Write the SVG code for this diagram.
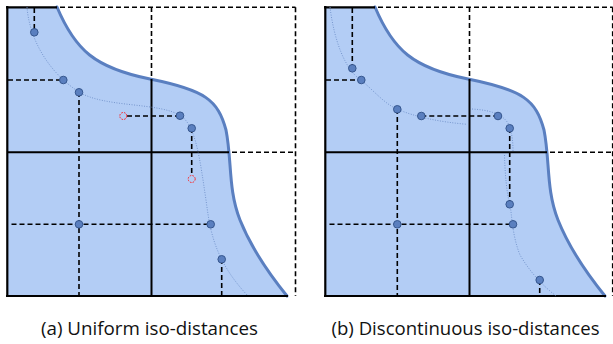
<svg xmlns="http://www.w3.org/2000/svg" width="613" height="344" viewBox="0 0 613 344">
<style>
.region{fill:#b3cdf5;stroke:none}
.edge{fill:none;stroke:#5a7fc0;stroke-width:3;stroke-linecap:round}
.solid{stroke:#000;stroke-width:2.2;fill:none}
.mid{stroke:#000;stroke-width:2;fill:none}
.dash{stroke:#000;stroke-width:1.6;stroke-dasharray:5 3;fill:none}
.iso{fill:none;stroke:#6f90c8;stroke-width:0.9;stroke-dasharray:1 1.5}
.pt{fill:#5a7fbf;stroke:#35568e;stroke-width:1}
.ghost{fill:none;stroke:#ff2020;stroke-width:1;stroke-dasharray:1.6 1.2}
.cap{font-family:"Open Sans","Noto Sans",sans-serif;font-size:17.5px;fill:#111;text-anchor:middle}
</style>
<defs>
<path id="shape" d="M7,7 L57,7 C75,50 95,68 150,79 C205,90 218,100 226,130 C232,160 228,190 240,220 C252,250 270,275 287,296 L7,296 Z"/>
<path id="bnd" d="M57,7 C75,50 95,68 150,79 C205,90 218,100 226,130 C232,160 228,190 240,220 C252,250 270,275 287,296"/>
</defs>

<g id="panel-a">
  <use href="#shape" class="region"/>
  <use href="#bnd" class="edge"/>
  <g id="grid-a">
    <line class="solid" x1="7.3" y1="6" x2="7.3" y2="297"/>
    <line class="solid" x1="6" y1="296" x2="288" y2="296"/>
    <line class="solid" x1="6" y1="7.3" x2="57" y2="7.3"/>
    <line class="dash" x1="60" y1="7.3" x2="295.5" y2="7.3"/>
    <line class="dash" x1="295.5" y1="7.3" x2="295.5" y2="296"/>
    <line class="dash" x1="151.5" y1="7" x2="151.5" y2="79"/>
    <line class="mid" x1="151.5" y1="79" x2="151.5" y2="296"/>
    <line class="mid" x1="7" y1="152.3" x2="229" y2="152.3"/>
    <line class="dash" x1="232" y1="152.3" x2="295.5" y2="152.3"/>
  </g>
  <path class="iso" d="M27,7 C29,35 45,70 79,92 C105,108 160,102 181,116 C196,126 200,160 206,200 C210,230 214,260 248,296"/>
  <g id="connectors-a">
    <line class="dash" x1="34.3" y1="8" x2="34.3" y2="32"/>
    <line class="dash" x1="8" y1="80" x2="63" y2="80"/>
    <line class="dash" x1="79" y1="92" x2="79" y2="295"/>
    <line class="dash" x1="127" y1="116" x2="180" y2="116"/>
    <line class="dash" x1="191.7" y1="128" x2="191.7" y2="175"/>
    <line class="dash" x1="11.5" y1="224.3" x2="210.7" y2="224.3"/>
    <line class="dash" x1="221.7" y1="259" x2="221.7" y2="295"/>
  </g>
  <g id="points-a">
    <circle class="pt" cx="34.3" cy="32.3" r="3.8"/>
    <circle class="pt" cx="63.3" cy="80" r="3.8"/>
    <circle class="pt" cx="79" cy="92.3" r="3.8"/>
    <circle class="pt" cx="180" cy="115.7" r="3.8"/>
    <circle class="pt" cx="191.7" cy="128.3" r="3.8"/>
    <circle class="pt" cx="210.7" cy="224.3" r="3.8"/>
    <circle class="pt" cx="221.7" cy="259.3" r="3.8"/>
    <circle class="pt" cx="79" cy="224.3" r="3.8"/>
    <circle class="ghost" cx="123.3" cy="116" r="3.5"/>
    <circle class="ghost" cx="191.7" cy="179" r="3.5"/>
  </g>
</g>

<g id="panel-b" transform="translate(318,0)">
  <use href="#shape" class="region"/>
  <use href="#bnd" class="edge"/>
  <g id="grid-b">
    <line class="solid" x1="7.3" y1="6" x2="7.3" y2="297"/>
    <line class="solid" x1="6" y1="296" x2="288" y2="296"/>
    <line class="solid" x1="6" y1="7.3" x2="57" y2="7.3"/>
    <line class="dash" x1="60" y1="7.3" x2="294.7" y2="7.3"/>
    <line class="dash" x1="294.7" y1="7.3" x2="294.7" y2="296"/>
    <line class="dash" x1="151.5" y1="7" x2="151.5" y2="79"/>
    <line class="mid" x1="151.5" y1="79" x2="151.5" y2="296"/>
    <line class="mid" x1="7" y1="152.3" x2="229" y2="152.3"/>
    <line class="dash" x1="232" y1="152.3" x2="294.7" y2="152.3"/>
  </g>
  <path class="iso" d="M12,7 C16,40 27,70 43,80 C57,92 67,104 79,109 C97,117 122,122 149,124.3"/>
  <path class="iso" d="M154,109 C170,110 185,113 191,125 C194,133 195,142 195,151"/>
  <path class="iso" d="M186.5,155 C187,175 189,195 192,205 C194,215 194,235 202,255 C212,272 224,285 238,296"/>
  <g id="connectors-b">
    <line class="dash" x1="34.3" y1="8" x2="34.3" y2="68"/>
    <line class="dash" x1="8" y1="80" x2="43" y2="80"/>
    <line class="dash" x1="79.3" y1="109" x2="79.3" y2="295"/>
    <line class="dash" x1="103.3" y1="116" x2="180" y2="116"/>
    <line class="dash" x1="191.7" y1="128" x2="191.7" y2="204"/>
    <line class="dash" x1="11.5" y1="224.3" x2="195" y2="224.3"/>
    <line class="dash" x1="221.7" y1="280" x2="221.7" y2="295"/>
  </g>
  <g id="points-b">
    <circle class="pt" cx="34.3" cy="68.3" r="3.8"/>
    <circle class="pt" cx="43.3" cy="80" r="3.8"/>
    <circle class="pt" cx="79.3" cy="109.3" r="3.8"/>
    <circle class="pt" cx="103.3" cy="116" r="3.8"/>
    <circle class="pt" cx="180" cy="116" r="3.8"/>
    <circle class="pt" cx="191.7" cy="128.3" r="3.8"/>
    <circle class="pt" cx="191.7" cy="204.3" r="3.8"/>
    <circle class="pt" cx="195" cy="224.3" r="3.8"/>
    <circle class="pt" cx="221.7" cy="280" r="3.8"/>
    <circle class="pt" cx="79.3" cy="224.3" r="3.8"/>
  </g>
</g>

<g id="captions">
  <text class="cap" x="149.5" y="335" textLength="217" lengthAdjust="spacingAndGlyphs">(a) Uniform iso-distances</text>
  <text class="cap" x="465.5" y="335" textLength="268" lengthAdjust="spacingAndGlyphs">(b) Discontinuous iso-distances</text>
</g>
</svg>
